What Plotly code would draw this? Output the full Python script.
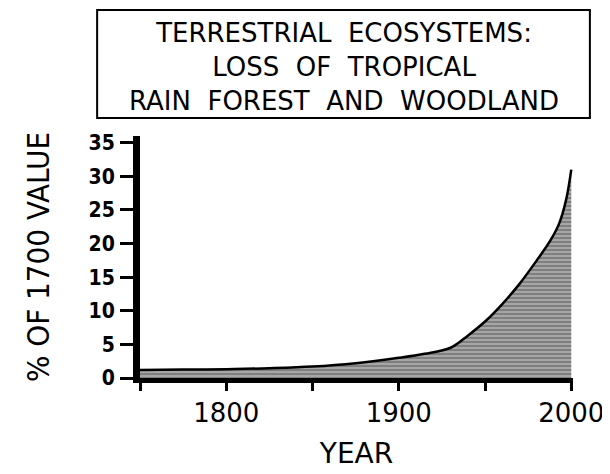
import plotly.graph_objects as go

# values (percent of 1700 value)
years = [1750, 1775, 1800, 1825, 1850, 1875, 1900, 1915, 1930, 1940, 1950, 1960, 1970, 1980, 1988, 1993, 1997, 2000]
loss = [1.2, 1.25, 1.3, 1.45, 1.7, 2.2, 3.0, 3.6, 4.5, 6.3, 8.4, 11.0, 14.0, 17.5, 20.5, 23.0, 26.5, 31.0]

x_tickvals = [1750, 1800, 1850, 1900, 1950, 2000]
x_ticktext = ["", "1800", "", "1900", "", "2000"]
y_tickvals = [0, 5, 10, 15, 20, 25, 30, 35]

title_lines = ["TERRESTRIAL  ECOSYSTEMS:", "LOSS  OF  TROPICAL", "RAIN  FOREST  AND  WOODLAND"]

FONT = "DejaVu Sans, sans-serif"
NARROW = "DejaVu Sans Condensed, DejaVu Sans, sans-serif"

fig = go.Figure()

fig.add_trace(
    go.Scatter(
        x=years,
        y=loss,
        mode="lines",
        line=dict(color="black", width=2.5, shape="spline"),
        fill="tozeroy",
        fillcolor="white",
        fillpattern=dict(shape="-", fgcolor="black", bgcolor="white", size=4, solidity=0.85),
        hoverinfo="skip",
    )
)

# the page puts the figure 8px in from the top-left corner
fig.update_layout(
    width=610,
    height=474,
    margin=dict(l=132, r=45, t=128, b=104),
    plot_bgcolor="white",
    paper_bgcolor="white",
    showlegend=False,
    font=dict(family=FONT, color="black"),
)

fig.update_xaxes(
    range=[1750, 2001],
    tickvals=x_tickvals,
    ticktext=x_ticktext,
    ticks="outside",
    ticklen=8,
    tickwidth=3,
    tickcolor="black",
    showline=True,
    linecolor="black",
    linewidth=5,
    showgrid=False,
    zeroline=False,
    automargin=False,
    tickfont=dict(size=26, family=FONT),
    title=dict(text="YEAR", font=dict(size=28, family=FONT), standoff=18),
)

fig.update_yaxes(
    range=[0, 36],
    tickvals=y_tickvals,
    ticks="outside",
    ticklen=13,
    tickwidth=3,
    tickcolor="black",
    showline=True,
    linecolor="black",
    linewidth=7,
    showgrid=False,
    zeroline=False,
    automargin=False,
    ticklabelstandoff=1,
    tickfont=dict(size=21, family=NARROW, weight=600),
    title=dict(text="% OF 1700 VALUE", font=dict(size=31, family=NARROW), standoff=32),
)

# title box
fig.add_shape(
    type="rect",
    xref="paper", yref="paper",
    x0=-0.099, x1=1.039, y0=1.074, y1=1.521,
    line=dict(color="black", width=2),
    fillcolor="rgba(0,0,0,0)",
    layer="above",
)

fig.add_annotation(
    text="<br>".join(line.replace("  ", "\u00a0\u00a0") for line in title_lines),
    xref="paper", yref="paper",
    x=0.47, y=1.0,
    xanchor="center", yanchor="bottom",
    yshift=18,
    showarrow=False,
    align="center",
    font=dict(size=26, family=FONT, color="black"),
)

fig.write_html("out.html")
